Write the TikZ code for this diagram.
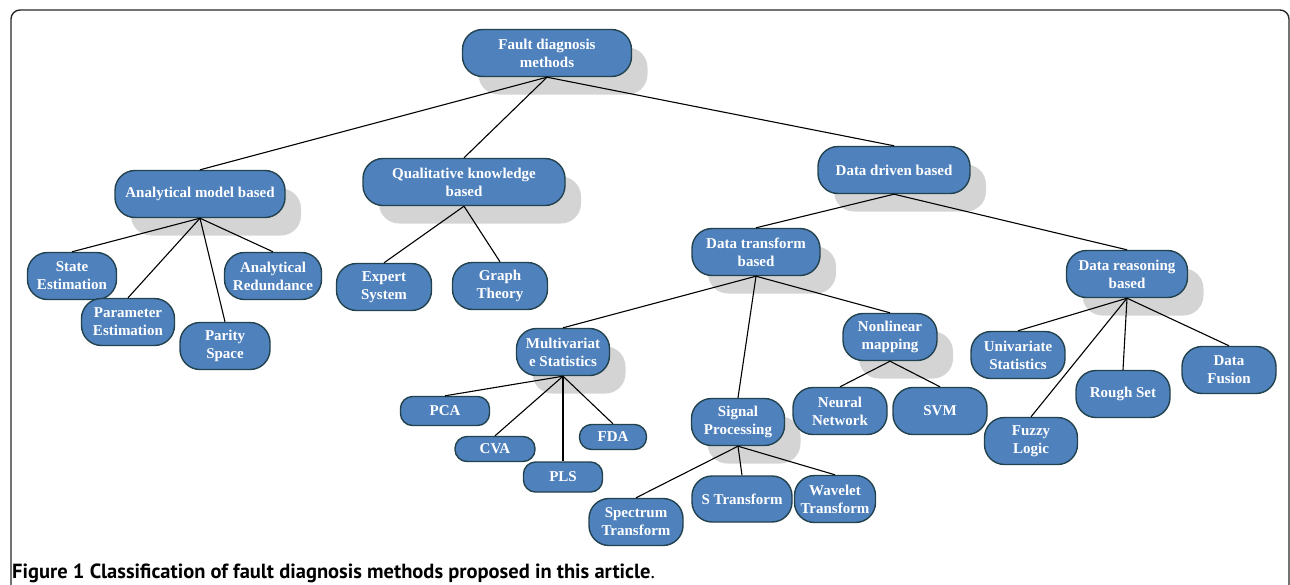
\documentclass[tikz,border=0pt]{standalone}
\usepackage{fontspec}
\setmainfont{Liberation Serif}
\newfontfamily\capfont{PT Sans}
\usetikzlibrary{shadows}
\definecolor{boxblue}{RGB}{79,129,189}
\definecolor{boxline}{RGB}{34,66,78}
\definecolor{shadowgray}{RGB}{212,212,212}
\definecolor{framegray}{RGB}{40,40,40}
\tikzset{
  box/.style={rectangle, rounded corners=20pt, draw=boxline, fill=boxblue, line width=1.4pt,
    text=white, align=center, inner sep=1pt, minimum height=47pt,
    font=\fontsize{15}{18}\selectfont\bfseries},
  parent/.style={box, drop shadow={shadow xshift=16pt, shadow yshift=-18pt, fill=shadowgray, opacity=1}},
  small/.style={box, rounded corners=12pt, minimum height=25pt},
  link/.style={line width=1.1pt, black}
}
\begin{document}
\begin{tikzpicture}[x=1pt,y=-1pt]
        \useasboundingbox (0,0) rectangle (1290,584);
        % Frame
        \draw[line width=1.4pt, framegray, rounded corners=9pt] (11,620) -- (11,10) -- (1289,10) -- (1289,620);

        % Upper levels
        \node[parent, minimum width=169pt] at (547,53)   (fdm) {Fault diagnosis\\methods};
        \node[parent, minimum width=170pt] at (200,194)  (amb) {Analytical model based};
        \node[parent, minimum width=202pt] at (464,182)  (qkb) {Qualitative knowledge\\based};
        \node[parent, minimum width=152pt] at (894,170)  (ddb) {Data driven based};
        \node[parent, minimum width=128pt] at (756,252)  (dtb) {Data transform\\based};
        \node[parent, minimum width=121pt] at (1127,274) (drb) {Data reasoning\\based};
        \node[parent, minimum width=93pt]  at (563,352)  (mvs) {Multivariat\\e Statistics};
        \node[parent, minimum width=93pt]  at (738,422)  (sgp) {Signal\\Processing};
        \node[parent, minimum width=94pt]  at (890,337)  (nlm) {Nonlinear\\mapping};

        % Analytical model
        \node[box, minimum width=89pt] at (72,276)  (ste) {State\\Estimation};
        \node[box, minimum width=93pt] at (128,322) (pae) {Parameter\\Estimation};
        \node[box, minimum width=90pt] at (225,346) (pas) {Parity\\Space};
        \node[box, minimum width=97pt] at (273,276) (anr) {Analytical\\Redundance};

        % Qualitative knowledge
        \node[box, minimum width=95pt] at (384,287) (exs) {Expert\\System};
        \node[box, minimum width=95pt] at (500,286) (grt) {Graph\\Theory};

        % Data transform
        \node[small, minimum width=89pt, minimum height=29pt] at (445,411) (pca) {PCA};
        \node[small, minimum width=80pt] at (495,449) (cva) {CVA};
        \node[small, minimum width=67pt] at (613,437) (fda) {FDA};
        \node[small, minimum width=79pt, minimum height=30pt] at (563,477) (pls) {PLS};
        \node[box, minimum width=94pt] at (636,522) (spt) {Spectrum\\Transform};
        \node[box, minimum width=100pt, minimum height=46pt] at (742,499) (stf) {S Transform};
        \node[box, minimum width=81pt] at (835,499) (wvt) {Wavelet\\Transform};
        \node[box, minimum width=94pt] at (840,411) (nnw) {Neural\\Network};
        \node[box, minimum width=94pt] at (940,411) (svm) {SVM};

        % Data reasoning
        \node[box, minimum width=94pt] at (1018,355) (uvs) {Univariate\\Statistics};
        \node[box, minimum width=93pt] at (1031,441) (fzl) {Fuzzy\\Logic};
        \node[box, minimum width=94pt] at (1123,394) (rgs) {Rough Set};
        \node[box, minimum width=94pt] at (1229,370) (dfu) {Data\\Fusion};

        % Links
        \foreach \p/\c in {fdm/amb, fdm/qkb, fdm/ddb, ddb/dtb, ddb/drb,
                           amb/ste, amb/pae, amb/pas, amb/anr, qkb/exs, qkb/grt,
                           dtb/mvs, dtb/sgp, dtb/nlm,
                           mvs/pca, mvs/cva, mvs/pls, mvs/fda,
                           sgp/spt, sgp/stf, sgp/wvt, nlm/nnw, nlm/svm,
                           drb/uvs, drb/fzl, drb/rgs, drb/dfu}
          \draw[link] (\p.south) -- (\c.north);

        % Caption
        \node[anchor=base west, inner sep=0pt, font=\capfont\fontsize{20.5}{23}\selectfont] at (12,578) (cap)
          {\textbf{Figure 1 Classification of fault diagnosis methods proposed in this article}.};
\end{tikzpicture}
\end{document}
